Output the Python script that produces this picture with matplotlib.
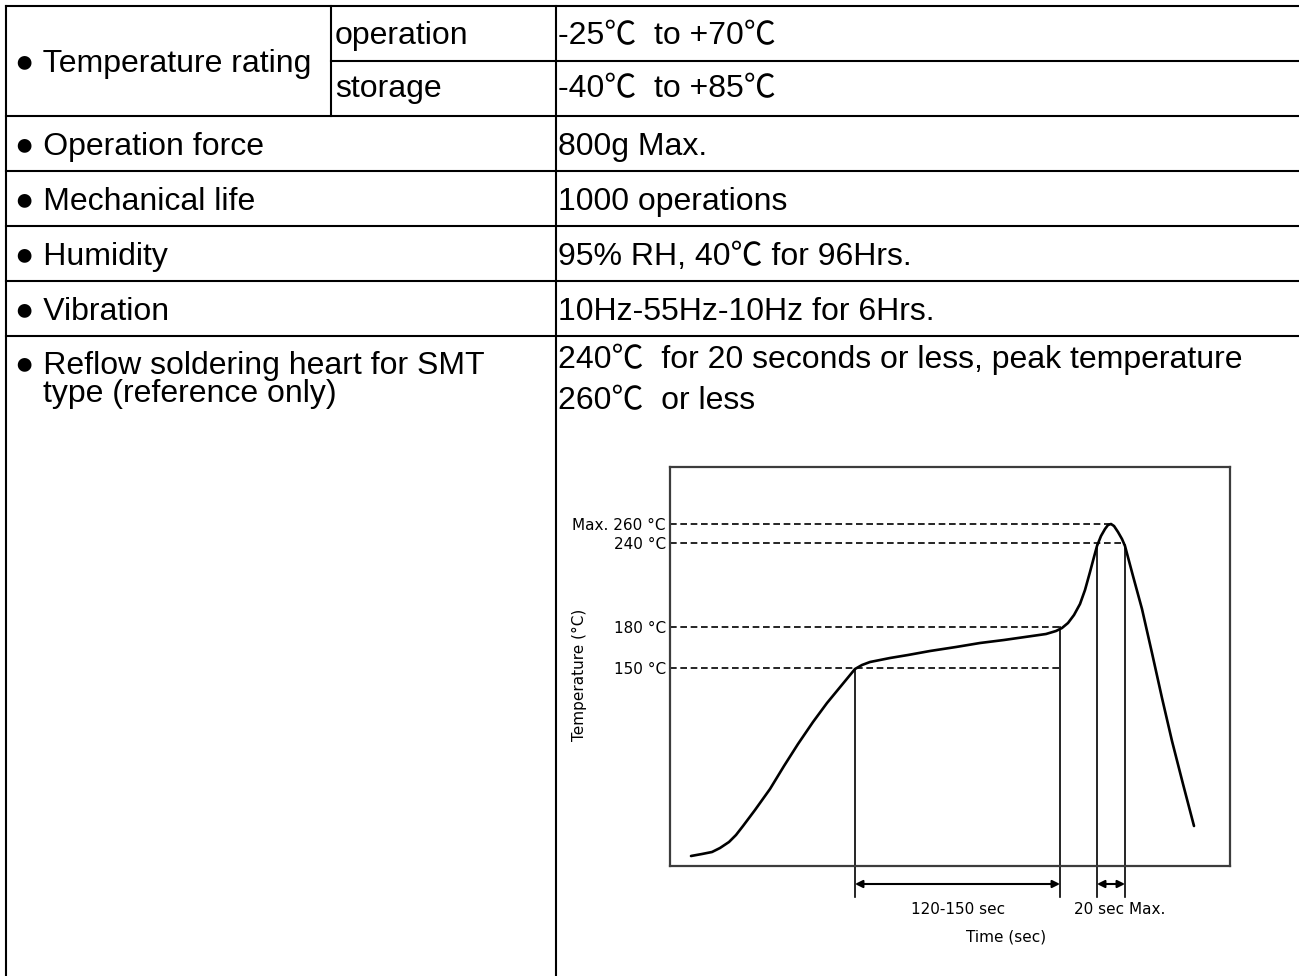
import matplotlib
matplotlib.use("Agg")
import matplotlib.pyplot as plt

# ---------------- data ----------------
row_labels = ["Temperature rating", "Operation force", "Mechanical life",
              "Humidity", "Vibration"]
sub_labels = ["operation", "storage"]
sub_values = ["-25℃  to +70℃", "-40℃  to +85℃"]
row_values = ["800g Max.", "1000 operations", "95% RH, 40℃ for 96Hrs.",
              "10Hz-55Hz-10Hz for 6Hrs."]
reflow_label = ["Reflow soldering heart for SMT", "type (reference only)"]
reflow_value = ["240℃  for 20 seconds or less, peak temperature", "260℃  or less"]

# reflow profile (schematic units: time, temperature position)
curve_t = [21, 32, 42, 50, 59, 66, 73, 85, 100, 114, 128, 143, 157, 171, 185,
           192, 200, 220, 238, 260, 286, 310, 334, 355, 376, 386, 392, 398,
           404, 410, 415, 420, 424, 427, 431, 435, 438, 441, 444, 448, 452,
           455, 463, 472, 482, 492, 502, 513, 524]
curve_T = [10, 12, 14, 18, 24, 31, 40, 56, 77, 100, 122, 144, 163, 180, 197,
           201, 204, 208, 211, 215, 219, 223, 226, 229, 232, 235, 238, 243,
           251, 262, 276, 294, 309, 320, 330, 337, 341, 342, 340, 334, 327,
           320, 290, 257, 213, 168, 125, 82, 40]
level_labels = ["Max. 260 °C", "240 °C", "180 °C", "150 °C"]
level_y = [342, 323, 239, 198]
level_end = [441, 455, 390, 390]
marker_x = [185, 390, 427, 455]
marker_top = [197, 239, 321, 321]
span_labels = ["120-150 sec", "20 sec Max."]

# ---------------- figure ----------------
W, H = 1299, 976
fig = plt.figure(figsize=(W / 100, H / 100), dpi=100)
ax = fig.add_axes([0, 0, 1, 1])
ax.set_xlim(0, W)
ax.set_ylim(H, 0)
ax.axis("off")

LW = 1.5
kw = dict(color="black", lw=LW, solid_capstyle="projecting")
for y in [6, 116, 171, 226, 281, 336]:
    ax.plot([6, W + 5], [y, y], **kw)
ax.plot([331, W + 5], [61, 61], **kw)
ax.plot([6, 6], [6, H + 5], **kw)
ax.plot([331, 331], [6, 116], **kw)
ax.plot([556, 556], [6, H + 5], **kw)

fam = ["Liberation Sans", "Noto Sans CJK SC", "DejaVu Sans"]
FS = 23
def t(x, y, s):
    ax.text(x, y, s, fontsize=FS, family=fam, va="baseline", ha="left", color="black")

t(15, 72, "● " + row_labels[0])
t(335, 44, sub_labels[0])
t(335, 97, sub_labels[1])
t(558, 44, sub_values[0])
t(558, 97, sub_values[1])
for i, (lab, val) in enumerate(zip(row_labels[1:], row_values)):
    base = 116 + 55 * i + 39
    t(15, base, "● " + lab)
    t(558, base, val)
t(15, 374, "● " + reflow_label[0])
t(43, 402, reflow_label[1])
t(558, 368, reflow_value[0])
t(558, 409, reflow_value[1])

# ---------------- reflow chart ----------------
bx0, bx1, by_top, by_bot = 670, 1230, 467, 866
ax2 = fig.add_axes([bx0 / W, (H - by_bot) / H, (bx1 - bx0) / W, (by_bot - by_top) / H])
ax2.set_xlim(0, bx1 - bx0)
ax2.set_ylim(0, by_bot - by_top)
for s in ax2.spines.values():
    s.set_color("#3c3c3c")
    s.set_linewidth(1.6)
ax2.set_xticks([])
ax2.set_yticks(level_y, level_labels)
ax2.tick_params(axis="y", length=0, pad=3, labelsize=11)

for y, xe in zip(level_y, level_end):
    ax2.plot([0, xe], [y, y], color="black", lw=1.2, linestyle=(0, (4, 2.2)))
for x, top in zip(marker_x, marker_top):
    ax2.plot([x, x], [top, -31], color="black", lw=1.2, clip_on=False)
ax2.plot(curve_t, curve_T, color="black", lw=1.9,
         solid_joinstyle="round", solid_capstyle="round")

arrow = dict(arrowstyle="<|-|>", lw=1.5, color="black", shrinkA=0, shrinkB=0,
             mutation_scale=11)
ax2.annotate("", xy=(marker_x[1], -18), xytext=(marker_x[0], -18),
             arrowprops=arrow, annotation_clip=False)
ax2.annotate("", xy=(marker_x[3], -18), xytext=(marker_x[2], -18),
             arrowprops=arrow, annotation_clip=False)

ax2.text(288, -44, span_labels[0], fontsize=11, ha="center", va="center", clip_on=False)
ax2.text(450, -44, span_labels[1], fontsize=11, ha="center", va="center", clip_on=False)
ax2.text(336, -71, "Time (sec)", fontsize=11, ha="center", va="center", clip_on=False)
ax2.text(-91, 191, "Temperature (°C)", fontsize=11, ha="center", va="center",
         rotation=90, clip_on=False)

fig.savefig("out.png", dpi=100)
